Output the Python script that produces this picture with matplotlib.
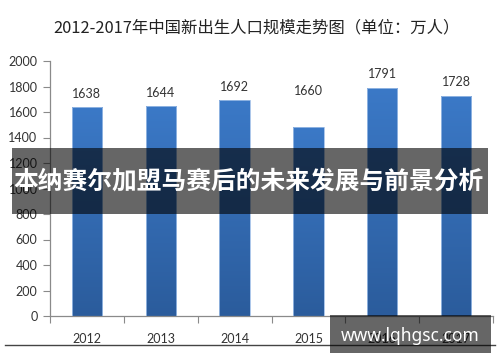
import matplotlib
matplotlib.use("Agg")
import matplotlib.pyplot as plt
import numpy as np
from matplotlib.patches import Rectangle
from matplotlib.lines import Line2D
from matplotlib.colors import LinearSegmentedColormap

years = ["2012", "2013", "2014", "2015", "2016", "2017"]
bar_values = [1638, 1644, 1692, 1480, 1791, 1728]
label_values = [1638, 1644, 1692, 1660, 1791, 1728]
yticks = [0, 200, 400, 600, 800, 1000, 1200, 1400, 1600, 1800, 2000]
title = "2012-2017年中国新出生人口规模走势图（单位：万人）"
banner = "本纳赛尔加盟马赛后的未来发展与前景分析"
watermark = "www.lqhgsc.com"

plt.rcParams['font.family'] = ['Lato', 'DejaVu Sans']
W, H = 500, 362
fig = plt.figure(figsize=(W / 100, H / 100), dpi=100)
fig.patch.set_facecolor("white")

def fx(px):
    return px / W

def fy(py):
    return 1 - py / H

ax = fig.add_axes([fx(50), fy(316), fx(493) - fx(50), fy(61) - fy(316)])
ax.set_xlim(-0.5, len(years) - 0.5)
ax.set_ylim(0, 2000)

cmap = LinearSegmentedColormap.from_list("bar", ["#2b5c9c", "#3b79c7"])
grad = np.linspace(0, 1, 256).reshape(-1, 1)
bw = 0.41
x = np.arange(len(years))
bars = ax.bar(x, bar_values, width=bw, color="none", edgecolor="#9dbde6", linewidth=0.6, zorder=3)
for b in bars:
    x0, y0 = b.get_x(), b.get_y()
    im = ax.imshow(grad, cmap=cmap, origin="lower", aspect="auto",
                   extent=(x0, x0 + b.get_width(), y0, y0 + b.get_height()), zorder=2)
    im.set_clip_path(b)
ax.set_xlim(-0.5, len(years) - 0.5)
ax.set_ylim(0, 2000)

for xi, lv in zip(x, label_values):
    ax.annotate(str(lv), (xi, lv), xytext=(0, 9.5), textcoords="offset points",
                ha="center", va="center", fontsize=9, color="#333333")

for s in ["top", "right"]:
    ax.spines[s].set_visible(False)
for s in ["left", "bottom"]:
    ax.spines[s].set_color("#8a8a8a")
    ax.spines[s].set_linewidth(0.9)

ax.set_yticks(yticks)
ax.set_yticklabels([str(v) for v in yticks], fontsize=9, color="#333333")
ax.tick_params(axis="y", length=5, width=0.8, color="#8a8a8a", pad=4)
ax.set_xticks(x)
ax.set_xticklabels(years, fontsize=9, color="#333333")
ax.tick_params(axis="x", which="major", length=0, pad=12)
ax.set_xticks(np.arange(-0.5, len(years), 1.0), minor=True)
ax.tick_params(axis="x", which="minor", length=5, width=0.8, color="#8a8a8a")

fig.text(fx(256), fy(28), title, ha="center", va="center", fontsize=11.8,
         family=["Noto Sans CJK SC", "DejaVu Sans"], color="#222222")

fig.add_artist(Line2D([fx(5), fx(495)], [fy(345), fy(345)], color="#444444", lw=1.0, zorder=4))

fig.add_artist(Rectangle((fx(12), fy(214)), fx(488) - fx(12), fy(148) - fy(214),
                         transform=fig.transFigure, facecolor="black", alpha=0.6,
                         edgecolor="none", zorder=10))
fig.text(fx(248), fy(182), banner, ha="center", va="center", fontsize=17.8,
         fontweight="bold", color="white", family=["Noto Sans CJK SC", "DejaVu Sans"], zorder=11)

fig.add_artist(Rectangle((fx(330), fy(353)), fx(491) - fx(330), fy(315) - fy(353),
                         transform=fig.transFigure, facecolor="black", alpha=0.6,
                         edgecolor="none", zorder=10))
fig.text(fx(410), fy(336), watermark, ha="center", va="center", fontsize=12.5,
         fontweight="bold", color="white", family=["Noto Sans", "DejaVu Sans"], zorder=11)

fig.savefig("out.png", dpi=100, facecolor="white")
